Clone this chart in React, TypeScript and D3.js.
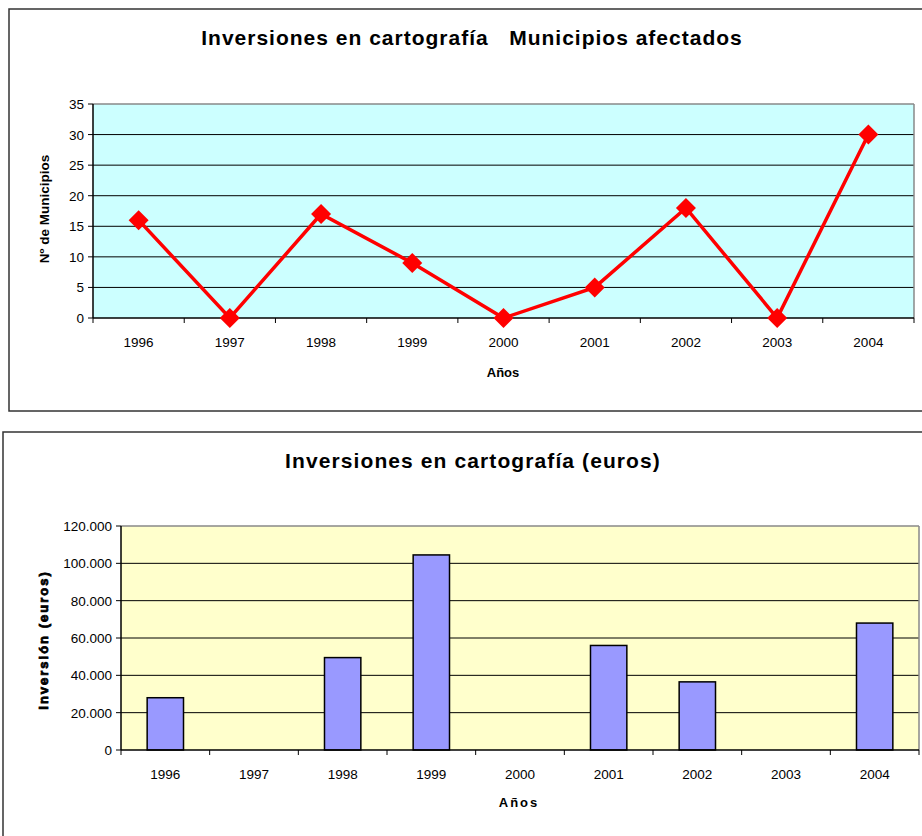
import React from "react";
import * as d3 from "d3";

const years = ["1996", "1997", "1998", "1999", "2000", "2001", "2002", "2003", "2004"];
const municipios = [16, 0, 17, 9, 0, 5, 18, 0, 30];
const inversion = [28000, 0, 49500, 104500, 0, 56000, 36500, 0, 68000];
const muniTicks = [0, 5, 10, 15, 20, 25, 30, 35];
const invTicks = [0, 20000, 40000, 60000, 80000, 100000, 120000];

const FONT = "'Liberation Sans', Arial, sans-serif";
const fmt = (v: number) => (v === 0 ? "0" : d3.format(",")(v).replace(/,/g, "."));

function LineChart() {
  const L = 93, R = 914, T = 104, B = 318;
  const x = d3.scaleBand<string>().domain(years).range([L, R]);
  const y = d3.scaleLinear().domain([0, 35]).range([B, T]);
  const line = d3
    .line<number>()
    .x((_, i) => (x(years[i]) as number) + x.bandwidth() / 2)
    .y((d) => y(d));
  const bounds = years.map((yr) => x(yr) as number).concat([R]);
  return (
    <g>
      <rect x={9} y={9} width={930} height={402} fill="#fff" stroke="#333" strokeWidth={1.5} />
      <text x={472} y={45} textAnchor="middle" fontFamily={FONT} fontWeight="bold" fontSize={21} letterSpacing={1} style={{ whiteSpace: "pre" }}>
        {"Inversiones en cartografía   Municipios afectados"}
      </text>
      <rect x={L} y={T} width={R - L} height={B - T} fill="#CCFFFF" />
      {muniTicks.slice(1, -1).map((t) => (
        <line key={t} x1={L} x2={R} y1={y(t)} y2={y(t)} stroke="#000" strokeWidth={1} />
      ))}
      <line x1={L} x2={R} y1={T} y2={T} stroke="#888" strokeWidth={1.5} />
      <line x1={R} x2={R} y1={T} y2={B} stroke="#888" strokeWidth={1.5} />
      <line x1={L} x2={L} y1={T} y2={B} stroke="#000" strokeWidth={1.5} />
      <line x1={L} x2={R} y1={B} y2={B} stroke="#000" strokeWidth={1.5} />
      {muniTicks.map((t) => (
        <g key={t}>
          <line x1={L - 5} x2={L} y1={y(t)} y2={y(t)} stroke="#000" />
          <text x={L - 9} y={y(t) + 5} textAnchor="end" fontFamily={FONT} fontSize={13.5}>
            {t}
          </text>
        </g>
      ))}
      {bounds.map((b, i) => (
        <line key={i} x1={b} x2={b} y1={B} y2={B + 5} stroke="#000" />
      ))}
      {years.map((yr) => (
        <text key={yr} x={(x(yr) as number) + x.bandwidth() / 2} y={347} textAnchor="middle" fontFamily={FONT} fontSize={13.5}>
          {yr}
        </text>
      ))}
      <text x={503} y={377} textAnchor="middle" fontFamily={FONT} fontWeight="bold" fontSize={13}>
        Años
      </text>
      <text transform={`translate(49,209) rotate(-90)`} textAnchor="middle" fontFamily={FONT} fontWeight="bold" fontSize={13.5}>
        Nº de Municipios
      </text>
      <path d={line(municipios) as string} fill="none" stroke="#FF0000" strokeWidth={3.5} strokeLinejoin="miter" />
      {municipios.map((v, i) => {
        const cx = (x(years[i]) as number) + x.bandwidth() / 2;
        const cy = y(v);
        const s = 10;
        return (
          <path key={i} d={`M${cx},${cy - s}L${cx + s},${cy}L${cx},${cy + s}L${cx - s},${cy}Z`} fill="#FF0000" />
        );
      })}
    </g>
  );
}

function BarChart() {
  const L = 121, R = 919, T = 526, B = 750;
  const x = d3.scaleBand<string>().domain(years).range([L, R]);
  const y = d3.scaleLinear().domain([0, 120000]).range([B, T]);
  const bw = x.bandwidth() * 0.41;
  const bounds = years.map((yr) => x(yr) as number).concat([R]);
  return (
    <g>
      <rect x={3} y={432} width={940} height={420} fill="#fff" stroke="#333" strokeWidth={1.5} />
      <text x={473} y={468} textAnchor="middle" fontFamily={FONT} fontWeight="bold" fontSize={21} letterSpacing={1.1}>
        Inversiones en cartografía (euros)
      </text>
      <rect x={L} y={T} width={R - L} height={B - T} fill="#FFFFCC" />
      {invTicks.slice(1, -1).map((t) => (
        <line key={t} x1={L} x2={R} y1={y(t)} y2={y(t)} stroke="#000" strokeWidth={1} />
      ))}
      <line x1={L} x2={R} y1={T} y2={T} stroke="#888" strokeWidth={1.5} />
      <line x1={R} x2={R} y1={T} y2={B} stroke="#888" strokeWidth={1.5} />
      {inversion.map((v, i) =>
        v > 0 ? (
          <rect
            key={i}
            x={(x(years[i]) as number) + (x.bandwidth() - bw) / 2}
            y={y(v)}
            width={bw}
            height={B - y(v)}
            fill="#9999FF"
            stroke="#000"
            strokeWidth={1.5}
          />
        ) : null
      )}
      <line x1={L} x2={L} y1={T} y2={B} stroke="#000" strokeWidth={1.5} />
      <line x1={L} x2={R} y1={B} y2={B} stroke="#000" strokeWidth={1.5} />
      {invTicks.map((t) => (
        <g key={t}>
          <line x1={L - 5} x2={L} y1={y(t)} y2={y(t)} stroke="#000" />
          <text x={L - 9} y={y(t) + 5} textAnchor="end" fontFamily={FONT} fontSize={13.5}>
            {fmt(t)}
          </text>
        </g>
      ))}
      {bounds.map((b, i) => (
        <line key={i} x1={b} x2={b} y1={B} y2={B + 5} stroke="#000" />
      ))}
      {years.map((yr) => (
        <text key={yr} x={(x(yr) as number) + x.bandwidth() / 2} y={779} textAnchor="middle" fontFamily={FONT} fontSize={13.5}>
          {yr}
        </text>
      ))}
      <text x={519} y={807} textAnchor="middle" fontFamily={FONT} fontWeight="bold" fontSize={13} letterSpacing={2}>
        Años
      </text>
      <text
        transform={`translate(48,640) rotate(-90)`}
        textAnchor="middle"
        fontFamily={FONT}
        fontWeight="900"
        fontSize={13}
        letterSpacing={2}
        stroke="#000"
        strokeWidth={0.8}
      >
        Inversión (euros)
      </text>
    </g>
  );
}

export default function App() {
  return (
    <svg
      width={922}
      height={836}
      style={{ position: "absolute", left: 0, top: 0, background: "#fff" }}
    >
      <rect x={0} y={0} width={922} height={836} fill="#fff" />
      <LineChart />
      <BarChart />
    </svg>
  );
}
